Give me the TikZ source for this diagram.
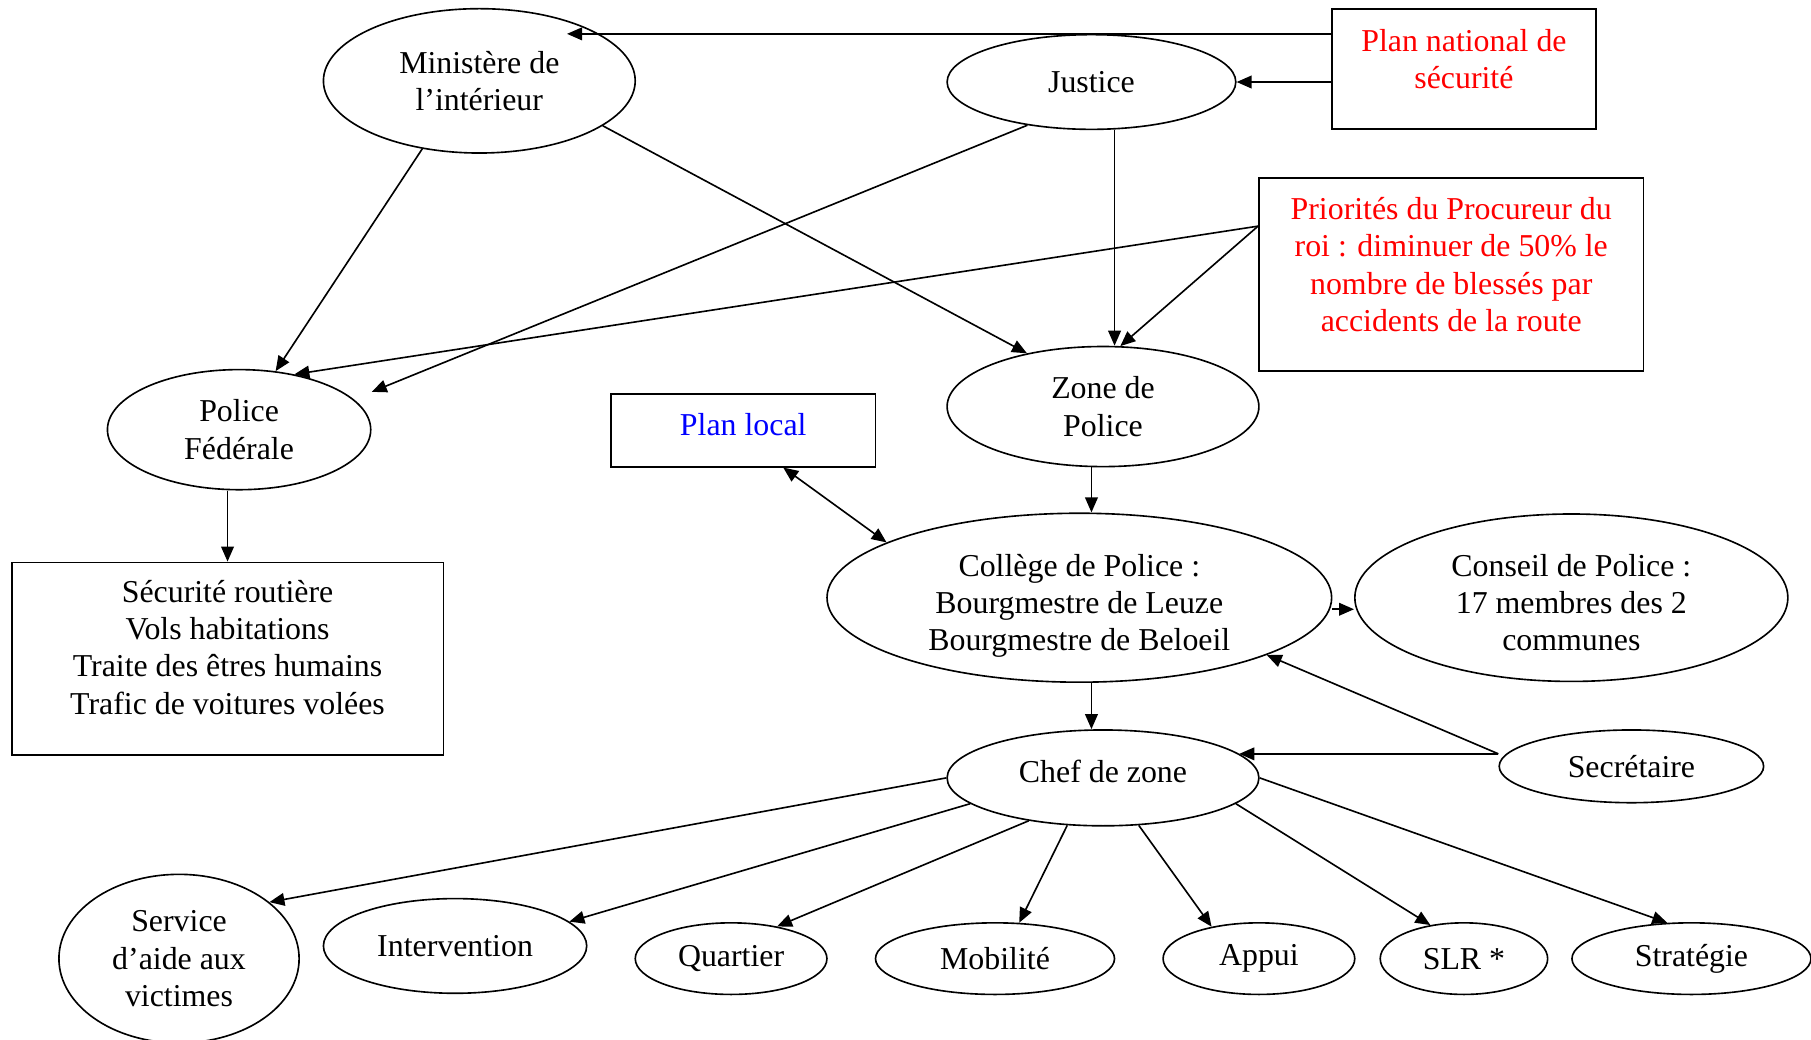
\documentclass[tikz,border=0pt]{standalone}
\usepackage{fontspec}
\setmainfont{Liberation Serif}
\usetikzlibrary{arrows.meta, shapes.geometric}

\begin{document}
\begin{tikzpicture}[
  x=0.02cm, y=-0.02cm,
  font=\fontsize{15.7}{18.35}\selectfont,
  bulle/.style={draw, ellipse, line width=0.8pt, inner sep=0pt, align=center},
  cadre/.style={draw, rectangle, line width=0.9pt, inner sep=0pt, align=center},
  cadreRouge/.style={cadre, text=red},
  cadreBleu/.style={cadre, text=blue},
  fleche/.style={draw, line width=0.8pt, -{Triangle[length=2.6mm, width=2.2mm]}},
  flecheDouble/.style={fleche, {Triangle[length=2.6mm, width=2.2mm]}-{Triangle[length=2.6mm, width=2.2mm]}}
]
\useasboundingbox (0,0) rectangle (1568,900);

\node[bulle, minimum width=5.4cm, minimum height=2.5cm] (mini) at (415,70) {Ministère de\\l’intérieur};
\node[bulle, minimum width=5cm, minimum height=1.64cm] (justice) at (945,71) {Justice};
\node[cadreRouge, minimum width=4.58cm, minimum height=2.08cm] (plannat) at (1267.5,60) {Plan national de\\sécurité\\[-0.28cm]};
\node[cadreRouge, minimum width=6.66cm, minimum height=3.34cm] (prio) at (1256.5,237.5) {%
  Priorités du Procureur du\\roi : diminuer de 50\% le\\nombre de blessés par\\accidents de la route\\[-0.3cm]};

\node[bulle, minimum width=4.56cm, minimum height=2.08cm] (polfed) at (207,372) {Police\\Fédérale};
\node[bulle, minimum width=5.4cm, minimum height=2.08cm] (zone) at (955,352) {Zone de\\Police};
\node[cadreBleu, minimum width=4.58cm, minimum height=1.26cm] (planloc) at (643.5,372.5) {Plan local\\[-0.44cm]};

\node[cadre, minimum width=7.48cm, minimum height=3.34cm] (secu) at (197,570.5) {%
  Sécurité routière\\Vols habitations\\Traite des êtres humains\\Trafic de voitures volées\\[-0.24cm]};
\node[bulle, minimum width=8.74cm, minimum height=2.9cm] (college) at (934.5,517.5) {%
  \rule{0pt}{0.66cm}Collège de Police :\\Bourgmestre de Leuze\\Bourgmestre de Beloeil};
\node[bulle, minimum width=7.5cm, minimum height=2.9cm] (conseil) at (1360.5,517.5) {%
  \rule{0pt}{0.55cm}Conseil de Police :\\17 membres des 2\\communes};

\node[bulle, minimum width=5.4cm, minimum height=1.66cm] (chef) at (955,673.5) {Chef de zone\\[-0.4cm]};
\node[bulle, minimum width=4.58cm, minimum height=1.26cm] (secr) at (1412.5,663.5) {Secrétaire};

\node[bulle, minimum width=4.16cm, minimum height=2.92cm] (service) at (155,830) {Service\\d’aide aux\\victimes};
\node[bulle, minimum width=4.56cm, minimum height=1.64cm] (interv) at (394,819) {Intervention};
\node[bulle, minimum width=3.32cm, minimum height=1.24cm] (quartier) at (633,830) {Quartier};
\node[bulle, minimum width=4.14cm, minimum height=1.24cm] (mobilite) at (861.5,830) {Mobilité};
\node[bulle, minimum width=3.32cm, minimum height=1.24cm] (appui) at (1090,830) {Appui};
\node[bulle, minimum width=2.9cm, minimum height=1.24cm] (slr) at (1267.5,830) {SLR *};
\node[bulle, minimum width=4.14cm, minimum height=1.24cm] (strategie) at (1464.5,830) {Stratégie};

\coordinate (entreeMini) at ([xshift=-0.4cm, yshift=-0.08cm]mini.north east);

\draw[fleche] (plannat.west |- entreeMini) -- (entreeMini);
\draw[fleche] (plannat.west |- justice.east) -- (justice.east);
\draw[fleche] (mini.230) -- (polfed.58);
\draw[fleche] (mini.-20) -- (zone.145);
\draw[fleche] (justice.214) -- ([xshift=0.5cm]polfed.20);
\draw[fleche] ([xshift=0.2cm]zone.north |- justice.south) -- ([xshift=0.2cm]zone.north);
\draw[fleche] (prio.166) -- (polfed.45);
\draw[fleche] (prio.166) -- (zone.74);

\draw[fleche] (polfed.south -| secu.north) -- (secu.north);
\draw[fleche] ([xshift=-0.2cm]zone.south) -- ([xshift=-0.2cm]zone.south |- college.north);
\draw[flecheDouble] (planloc.-43) -- (college.164);
\draw[fleche] ([yshift=-0.2cm]college.east) -- ([yshift=-0.2cm]conseil.west);
\draw[fleche] ([xshift=-0.2cm]chef.north |- college.south) -- ([xshift=-0.2cm]chef.north);
\draw[fleche] (secr.west |- chef.10) -- (chef.10);
\draw[fleche] (secr.west |- chef.10) -- (college.-17);

\draw[fleche] (chef.west) -- (service.32);
\draw[fleche] (chef.191) -- (interv.12);
\draw[fleche] (chef.210) -- (quartier.35);
\draw[fleche] (chef.233) -- (mobilite.56);
\draw[fleche] (chef.-53) -- (appui.146);
\draw[fleche] (chef.-11) -- (slr.135);
\draw[fleche] (chef.east) -- (strategie.124);
\end{tikzpicture}
\end{document}
